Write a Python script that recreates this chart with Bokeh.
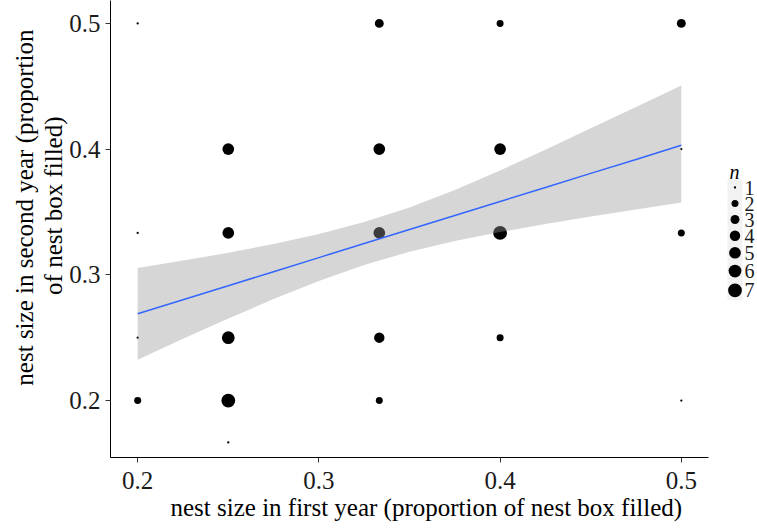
import numpy as np
from bokeh.plotting import figure
from bokeh.models import Range1d, FixedTicker, Title
from bokeh.embed import file_html
from bokeh.resources import INLINE
from bokeh.core.properties import value

# ---- data ----
first_year = [0.2, 0.2, 0.2, 0.2,
              0.25, 0.25, 0.25, 0.25, 0.25,
              1/3, 1/3, 1/3, 1/3, 1/3,
              0.4, 0.4, 0.4, 0.4,
              0.5, 0.5, 0.5, 0.5]
second_year = [0.5, 1/3, 0.25, 0.2,
               0.4, 1/3, 0.25, 0.2, 1/6,
               0.5, 0.4, 1/3, 0.25, 0.2,
               0.5, 0.4, 1/3, 0.25,
               0.5, 0.4, 1/3, 0.2]
count_n = [1, 1, 1, 2,
           5, 5, 6, 7, 1,
           3, 5, 5, 4, 2,
           2, 5, 7, 2,
           3, 1, 2, 1]

fit_x = [0.2, 0.225, 0.25, 0.275, 0.3, 0.325, 0.35, 0.375, 0.4, 0.425, 0.45, 0.475, 0.5]
fit_y = [0.269, 0.2802, 0.2913, 0.3025, 0.3137, 0.3249, 0.336, 0.3472, 0.3583, 0.3695, 0.3807, 0.3918, 0.403]
fit_lower = [0.2325, 0.2491, 0.2652, 0.2807, 0.2951, 0.3079, 0.3183, 0.3269, 0.334, 0.3404, 0.3464, 0.352, 0.3575]
fit_upper = [0.3055, 0.3113, 0.3175, 0.3245, 0.3325, 0.342, 0.3535, 0.3675, 0.383, 0.3995, 0.4165, 0.4335, 0.4505]

x_ticks = [0.2, 0.3, 0.4, 0.5]
y_ticks = [0.2, 0.3, 0.4, 0.5]
legend_levels = [1, 2, 3, 4, 5, 6, 7]

x_title = "nest size in first year (proportion of nest box filled)"
y_title_lines = ["nest size in second year (proportion", "of nest box filled)"]

FONT = "Liberation Serif"
W, H = 757, 529

# layout of the plotting frame (pixels)
FRAME_L, FRAME_T, FRAME_B = 110, 0, 457
X0, X_AXIS_END, Y0, Y1 = 0.185, 0.515, 0.1547, 0.5182
X_PER_PX = (X_AXIS_END - X0) / (708 - FRAME_L)
X1 = X0 + (W - FRAME_L) * X_PER_PX          # frame continues under the legend
Y_PER_PX = (Y1 - Y0) / (FRAME_B - FRAME_T)


def px_x(px):
    return X0 + (np.asarray(px, dtype=float) - FRAME_L) * X_PER_PX


def px_y(py):
    return Y1 - (np.asarray(py, dtype=float) - FRAME_T) * Y_PER_PX


def n_to_px(n):
    n = np.asarray(n, dtype=float)
    return 2.3 * (1 + 5 * np.sqrt((n - 1) / 6.0))


p = figure(width=W, height=H,
           x_range=Range1d(X0, X1), y_range=Range1d(Y0, Y1),
           output_backend="svg", toolbar_location=None,
           min_border_left=FRAME_L, min_border_right=0,
           min_border_top=FRAME_T, min_border_bottom=H - FRAME_B)

p.scatter(first_year, second_year, size=n_to_px(count_n).tolist(),
          fill_color="black", line_color=None)
p.varea(x=fit_x, y1=fit_lower, y2=fit_upper, fill_color="#999999", fill_alpha=0.4)
p.line(fit_x, fit_y, line_color="#3366FF", line_width=1.5)

p.xgrid.visible = False
p.ygrid.visible = False
p.outline_line_color = None
p.background_fill_color = "white"

p.xaxis.ticker = FixedTicker(ticks=x_ticks)
p.yaxis.ticker = FixedTicker(ticks=y_ticks)
p.xaxis.bounds = (X0, X_AXIS_END)
for ax in (p.xaxis, p.yaxis):
    ax.minor_tick_line_color = None
    ax.major_tick_in = 0
    ax.major_tick_out = 5
    ax.major_tick_line_color = "#333333"
    ax.axis_line_color = "black"
    ax.axis_line_width = 1
    ax.major_label_text_font = FONT
    ax.major_label_text_font_size = "25px"
    ax.major_label_text_color = "#1a1a1a"
p.xaxis.major_label_standoff = 9
p.yaxis.major_label_standoff = 5

# axis titles (placed like the reference, slightly off the panel centre)
p.add_layout(Title(text=x_title, align="left", offset=60, standoff=0,
                   text_font=FONT, text_font_size="25px", text_font_style="normal",
                   text_color="black", text_line_height=1.05), "below")
p.add_layout(Title(text=y_title_lines[1], align="right", offset=116, standoff=0,
                   text_font=FONT, text_font_size="25px", text_font_style="normal",
                   text_color="black", text_line_height=0.96), "left")
p.add_layout(Title(text=y_title_lines[0], align="right", offset=29, standoff=0,
                   text_font=FONT, text_font_size="25px", text_font_style="normal",
                   text_color="black", text_line_height=0.96), "left")

# ---- size legend, drawn in the frame's right margin ----
key_sizes = n_to_px(legend_levels)
key_h = np.maximum(16.0, key_sizes + 6)
centers = [187.0]
for i in range(1, len(legend_levels)):
    centers.append(centers[-1] + (key_h[i - 1] + key_h[i]) / 2)
centers = np.array(centers)
tops = centers - key_h / 2
bottoms = centers + key_h / 2

p.quad(left=px_x(727), right=px_x(742), top=px_y(tops).tolist(), bottom=px_y(bottoms).tolist(),
       fill_color="#f2f2f2", line_color=None)
p.scatter(px_x([734.5] * len(legend_levels)).tolist(), px_y(centers).tolist(),
          size=key_sizes.tolist(), fill_color="black", line_color=None)
p.text(px_x([744] * len(legend_levels)).tolist(), px_y(centers).tolist(),
       text=[str(v) for v in legend_levels],
       text_baseline="middle", text_align="left", text_font=value(FONT),
       text_font_size="20px", text_color="#1a1a1a")
p.text(px_x([729]).tolist(), px_y([171]).tolist(), text=["n"],
       text_baseline="middle", text_align="left",
       text_font=value(FONT), text_font_size="20px", text_font_style="italic",
       text_color="black")

open("out.html", "w").write(file_html(p, INLINE))
